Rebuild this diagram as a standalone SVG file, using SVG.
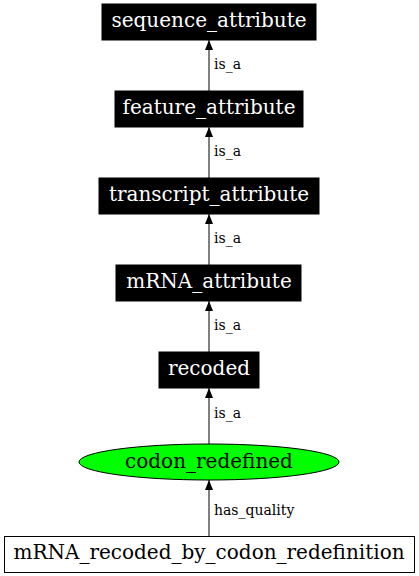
<svg xmlns="http://www.w3.org/2000/svg" width="419" height="576" viewBox="0 0 419 576">
<style>
.box{fill:#000;stroke:#000}
.nt{font-family:"DejaVu Serif",serif;font-size:20px;fill:#fff;text-anchor:middle}
.bt{font-family:"DejaVu Serif",serif;font-size:20px;fill:#000;text-anchor:middle}
.el{font-family:"DejaVu Serif",serif;font-size:14px;fill:#000}
.e{stroke:#000;stroke-width:1;fill:none}
</style>
<defs>
<marker id="arr" viewBox="0 0 10 10" refX="10" refY="5" markerWidth="10" markerHeight="8" markerUnits="userSpaceOnUse" orient="auto" preserveAspectRatio="none">
<path d="M0,0 L10,5 L0,10 z" fill="#000"/>
</marker>
</defs>
<rect width="419" height="576" fill="#fff"/>
<g id="edges">
<line class="e" x1="209" y1="91" x2="209" y2="40" marker-end="url(#arr)"/>
<text class="el" x="214" y="69">is_a</text>
<line class="e" x1="209" y1="178" x2="209" y2="127" marker-end="url(#arr)"/>
<text class="el" x="214" y="156">is_a</text>
<line class="e" x1="209" y1="265" x2="209" y2="214" marker-end="url(#arr)"/>
<text class="el" x="214" y="243">is_a</text>
<line class="e" x1="209" y1="352" x2="209" y2="301" marker-end="url(#arr)"/>
<text class="el" x="214" y="330">is_a</text>
<line class="e" x1="209" y1="444" x2="209" y2="388" marker-end="url(#arr)"/>
<text class="el" x="214" y="418">is_a</text>
<line class="e" x1="209" y1="536" x2="209" y2="480" marker-end="url(#arr)"/>
<text class="el" x="214" y="515">has_quality</text>
</g>
<g id="sequence_attribute"><rect class="box" x="102" y="4" width="214" height="36"/><text class="nt" x="209" y="27">sequence_attribute</text></g>
<g id="feature_attribute"><rect class="box" x="115" y="91" width="188" height="36"/><text class="nt" x="209" y="114">feature_attribute</text></g>
<g id="transcript_attribute"><rect class="box" x="99" y="178" width="220" height="36"/><text class="nt" x="209" y="201">transcript_attribute</text></g>
<g id="mRNA_attribute"><rect class="box" x="116" y="265" width="185" height="36"/><text class="nt" x="209" y="288">mRNA_attribute</text></g>
<g id="recoded"><rect class="box" x="159" y="352" width="100" height="36"/><text class="nt" x="209" y="375">recoded</text></g>
<g id="codon_redefined"><ellipse cx="209" cy="462" rx="130" ry="18" fill="#00ff00" stroke="#000"/><text class="bt" x="209" y="468">codon_redefined</text></g>
<g id="mRNA_recoded_by_codon_redefinition"><rect x="4.5" y="536.5" width="410" height="36" fill="#fff" stroke="#000"/><text class="bt" x="209" y="559">mRNA_recoded_by_codon_redefinition</text></g>
</svg>
